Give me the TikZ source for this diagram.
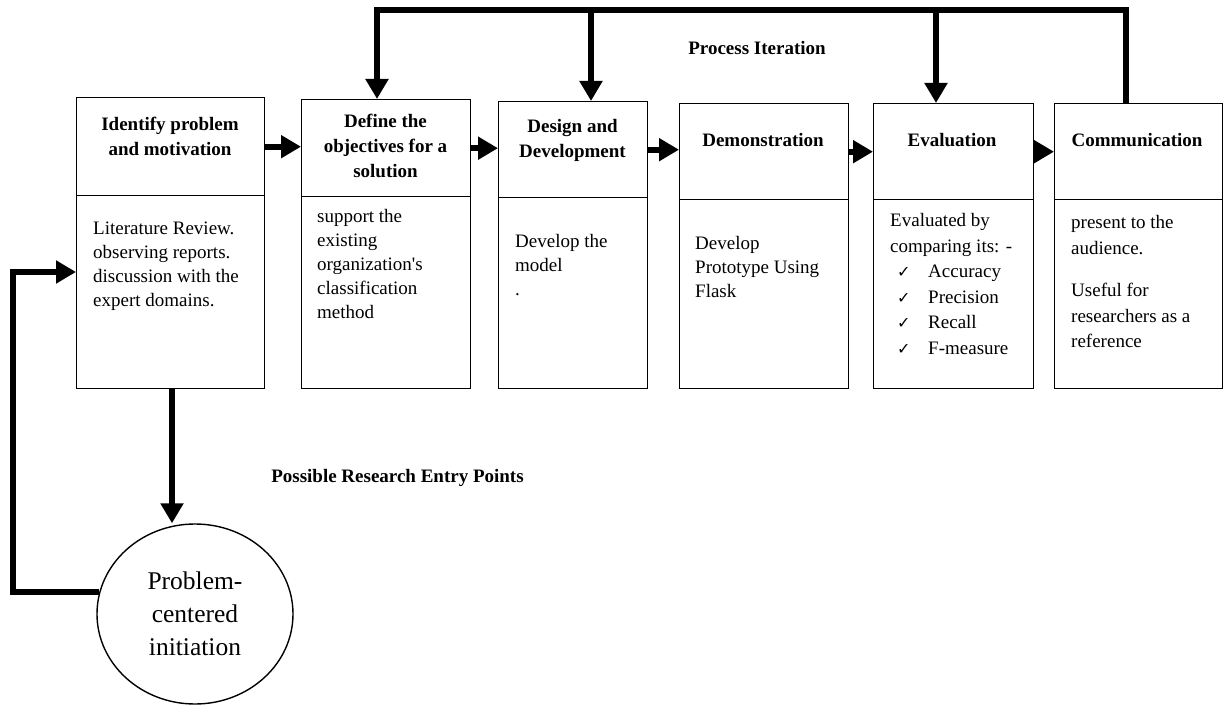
\documentclass[tikz,border=0pt]{standalone}
\usepackage{fontspec}
\setmainfont{Liberation Serif}
\newfontfamily\symfont{DejaVu Sans}
\usetikzlibrary{arrows.meta,shapes.geometric}
% check-mark bullet used in the evaluation list
\newcommand\chkitem{\hspace*{7pt}\makebox[31pt][l]{\symfont\fontsize{16}{16}\selectfont ✓}}
\begin{document}
\begin{tikzpicture}[x=1pt,y=-1pt,
  panel/.style={draw,line width=1.4pt,inner sep=0pt,anchor=north west},
  head/.style={font=\fontsize{19}{25}\selectfont\bfseries,align=center,inner sep=0pt},
  body/.style={font=\fontsize{19}{24}\selectfont,align=left,inner sep=0pt,anchor=north west},
  flowarrow/.style={line width=6pt,-{Triangle[length=20pt,width=22pt]}},
  caption/.style={font=\fontsize{19}{23}\selectfont\bfseries,inner sep=0pt}]
\useasboundingbox (0,0) rectangle (1225,708);

% stage panels: heading part and description part
\node[panel,minimum width=188pt,minimum height=98pt] (h1) at (76,97) {};
\node[panel,minimum width=188pt,minimum height=193pt] (b1) at (76,195) {};
\node[panel,minimum width=169pt,minimum height=97pt] (h2) at (301,99) {};
\node[panel,minimum width=169pt,minimum height=192pt] (b2) at (301,196) {};
\node[panel,minimum width=149pt,minimum height=96pt] (h3) at (498,101) {};
\node[panel,minimum width=149pt,minimum height=191pt] (b3) at (498,197) {};
\node[panel,minimum width=169pt,minimum height=96pt] (h4) at (679,103) {};
\node[panel,minimum width=169pt,minimum height=189pt] (b4) at (679,199) {};
\node[panel,minimum width=160pt,minimum height=96pt] (h5) at (873,103) {};
\node[panel,minimum width=160pt,minimum height=189pt] (b5) at (873,199) {};
\node[panel,minimum width=168pt,minimum height=96pt] (h6) at (1054,103) {};
\node[panel,minimum width=168pt,minimum height=189pt] (b6) at (1054,199) {};

% headings
\node[head] (t1) at (170,136.5) {Identify problem\\and motivation};
\node[head] (t2) at (385.5,146) {Define the\\objectives for a\\solution};
\node[head] (t3) at (572.5,140) {Design and\\Development};
\node[head] (t4) at (763,140) {Demonstration};
\node[head] (t5) at (952,140) {Evaluation};
\node[head] (t6) at (1137,140) {Communication};

% descriptions
\node[body] (p1) at (93,221.5) {Literature Review.\\observing reports.\\discussion with the\\expert domains.};
\node[body] (p2) at (317,209.5) {support the\\existing\\organization\textquotesingle s\\classification\\method};
\node[body] (p3) at (515,234.5) {Develop the\\model\\.};
\node[body] (p4) at (695,236.5) {Develop\\Prototype Using\\Flask};
\node[body,font=\fontsize{19}{25.5}\selectfont] (p5) at (890,213.5) {Evaluated by\\comparing its: -\\\chkitem Accuracy\\\chkitem Precision\\\chkitem Recall\\\chkitem F-measure};
\node[body,font=\fontsize{19}{25.5}\selectfont] (p6) at (1071,215.5) {present to the\\audience.\\[17pt]Useful for\\researchers as a\\reference};

% forward flow between stages
\draw[flowarrow] (h1.east) -- (h1.east -| h2.west);
\draw[flowarrow] (h2.east) -- (h2.east -| h3.west);
\draw[flowarrow] (h3.east) -- (h3.east -| h4.west);
\draw[flowarrow] (h4.east) -- (h4.east -| h5.west);
\draw[flowarrow] (h5.east) -- (h5.east -| h6.west);

% process iteration loop along the top
\coordinate (r6) at (1126,10);
\coordinate (l2) at (377,10);
\coordinate (j3) at (591,10);
\coordinate (j5) at (936,10);
\draw[flowarrow] (r6 |- h6.north) -- (r6) -- (l2) -- (l2 |- h2.north);
\draw[flowarrow] (j3) -- (j3 |- h3.north);
\draw[flowarrow] (j5) -- (j5 |- h5.north);
\node[caption] (pi) at (757,48) {Process Iteration};

% research entry point
\node[draw,ellipse,line width=1.4pt,minimum width=196pt,minimum height=180pt,inner sep=0pt,
      font=\fontsize{25.5}{33}\selectfont,align=center] (c) at (195,614) {Problem-\\centered\\initiation};
\coordinate (dn) at (172,0);
\draw[flowarrow] (dn |- b1.south) -- (dn |- c.north);
\coordinate (ent) at (13,272);
\draw[flowarrow] (c.167) -| (ent) -- (ent -| b1.west);
\node[caption] (rep) at (397.5,478) {Possible Research Entry Points};
\end{tikzpicture}
\end{document}
